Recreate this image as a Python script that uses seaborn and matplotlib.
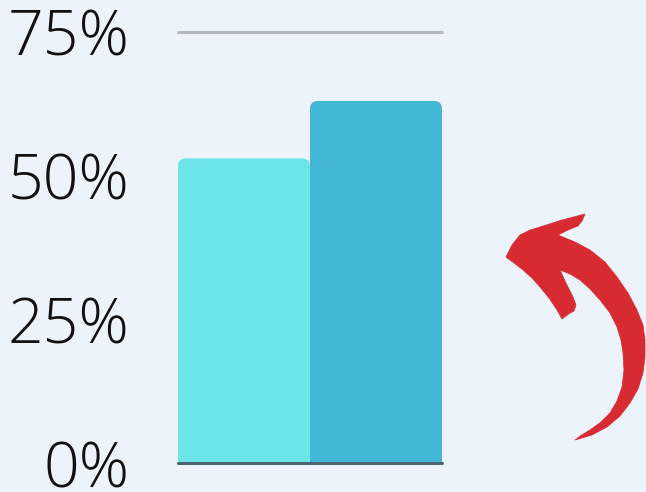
import matplotlib
matplotlib.use("Agg")
import matplotlib.pyplot as plt
import seaborn as sns
import pandas as pd
from matplotlib.patches import FancyBboxPatch, Rectangle, Polygon

categories = ["A", "B"]
values = [53, 63]
bar_colors = ["#6BE5E8", "#42B7D6"]
yticks = [0, 25, 50, 75]
ytick_labels = ["0%", "25%", "50%", "75%"]

bg = "#EDF3FA"
sns.set_theme(style="white")
plt.rcParams['font.family'] = ['Open Sans', 'DejaVu Sans']

W, H = 646, 492
fig = plt.figure(figsize=(W / 100, H / 100), dpi=100, facecolor=bg)
ax = fig.add_axes([178 / W, (H - 463) / H, (442 - 178) / W, (463 - 32) / H])
ax.set_facecolor(bg)

df = pd.DataFrame({"cat": categories, "val": values})
sns.barplot(data=df, x="cat", y="val", hue="cat", palette=bar_colors,
            width=1.0, legend=False, ax=ax, saturation=1)
ax.set_xlim(-0.5, 1.5)
ax.set_ylim(0, 75)

# rounded top corners
xunit = (442 - 178) / 2.0
yunit = (463 - 32) / 75.0
r_px = 8
rx = r_px / xunit
aspect = (r_px / yunit) / rx
for p, c in zip(list(ax.patches), bar_colors):
    x0, w, h = p.get_x(), p.get_width(), p.get_height()
    p.set_visible(False)
    ax.add_patch(FancyBboxPatch((x0, 0), w, h,
                                boxstyle=f"round,pad=0,rounding_size={rx}",
                                mutation_aspect=aspect, fc=c, ec="none", zorder=2))
    ax.add_patch(Rectangle((x0, 0), w, h - 3, fc=c, ec="none", zorder=2))

ax.axhline(75, color="#B5B8BD", lw=2.2, zorder=1, clip_on=False)
ax.axhline(0, color="#4F6670", lw=2.2, zorder=3, clip_on=False)

for s in ax.spines.values():
    s.set_visible(False)
ax.set_xticks([])
ax.set_xlabel("")
ax.set_ylabel("")
ax.set_yticks(yticks)
ax.set_yticklabels(ytick_labels, fontsize=45, fontweight="light", color="#111111")
ax.tick_params(axis="y", length=0, pad=35)

# decorative red arrow (figure pixel coordinates)
pts_px = [
    (506, 257), (512, 245), (520, 235), (530, 230), (540, 227), (562, 220), (585, 214),
    (582, 221), (578, 226), (568, 230), (558, 235),
    (575, 242), (590, 250), (605, 262), (617, 277), (628, 293), (637, 310),
    (643, 325), (645, 340), (645, 357), (643, 373), (638, 389), (630, 403),
    (620, 416), (607, 427), (592, 435), (575, 440),
    (580, 436), (590, 430), (601, 422), (610, 413), (617, 401), (622, 387),
    (624, 370), (623, 353), (621, 340), (617, 327), (610, 313), (600, 300),
    (590, 289), (580, 280), (570, 274), (560, 270),
    (566, 283), (573, 297), (576, 305), (574, 311), (570, 313), (562, 319),
    (557, 310), (549, 298), (540, 287), (532, 278), (523, 270), (514, 263),
]
pts = [(x / W, 1 - y / H) for x, y in pts_px]
fig.patches.append(Polygon(pts, closed=True, fc="#D82A31", ec="#D82A31", lw=0.5,
                           transform=fig.transFigure, figure=fig))

fig.savefig("out.png", dpi=100, facecolor=bg)
